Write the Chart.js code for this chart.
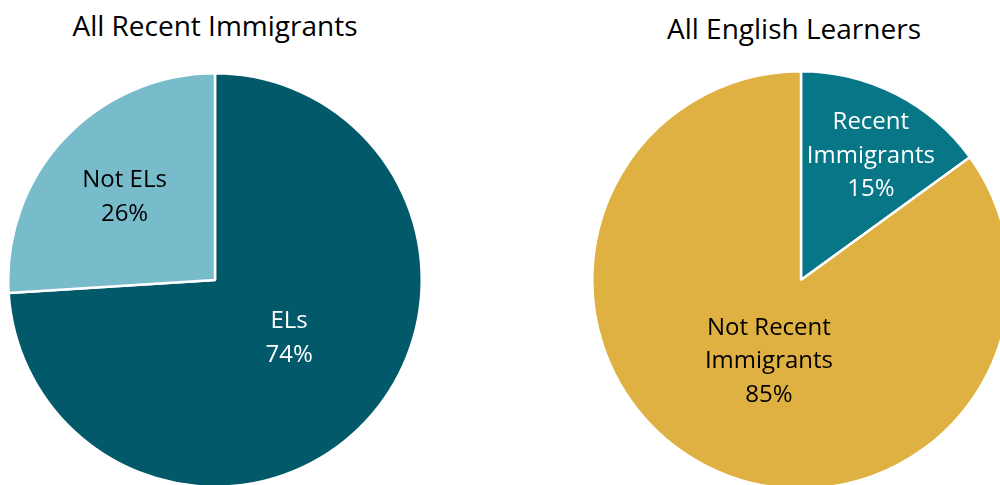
<!DOCTYPE html>
<html>
<head>
<meta charset="utf-8">
<script src="https://cdn.jsdelivr.net/npm/chart.js@4"></script>
<style>
  html, body { margin: 0; padding: 0; background: #fff; overflow: hidden; width: 1000px; height: 485px; }
  .title { position: absolute; font-family: "Open Sans", sans-serif; font-size: 28px; color: #000; white-space: nowrap; transform: translateX(-50%); }
  canvas { position: absolute; }
</style>
</head>
<body>
<div class="title" style="left:215px; top:6px;">All Recent Immigrants</div>
<div class="title" style="left:794px; top:9px;">All English Learners</div>
<div style="position:absolute; left:7px; top:72px; width:416px; height:416px;"><canvas id="immChart"></canvas></div>
<div style="position:absolute; left:591px; top:70px; width:420px; height:420px;"><canvas id="elChart"></canvas></div>
<script>
// left pie: all recent immigrants
const immLabels = [['ELs'], ['Not ELs']];
const immValues = [74, 26];
const immColors = ['#02596A', '#78BBCA'];
const immText = ['#ffffff', '#000000'];

// right pie: all English learners
const elLabels = [['Recent', 'Immigrants'], ['Not Recent', 'Immigrants']];
const elValues = [15, 85];
const elColors = ['#077686', '#DFB142'];
const elText = ['#ffffff', '#000000'];

// label placement per slice: [fraction of radius, angle tweak in degrees]
const immPlace = [[0.45, -6], [0.60, 0]];
const elPlace = [[0.69, 2], [0.41, -5]];

const sliceLabels = {
    id: 'sliceLabels',
    afterDatasetsDraw(chart, args, opts) {
        const ctx = chart.ctx;
        const meta = chart.getDatasetMeta(0);
        const values = chart.data.datasets[0].data;
        const total = values.reduce((a, b) => a + b, 0);
        ctx.save();
        ctx.font = '24px "Open Sans", sans-serif';
        ctx.textAlign = 'center';
        ctx.textBaseline = 'middle';
        meta.data.forEach((arc, i) => {
            const p = arc.getProps(['x', 'y', 'startAngle', 'endAngle', 'outerRadius'], true);
            const place = opts.place[i];
            const mid = (p.startAngle + p.endAngle) / 2 + place[1] * Math.PI / 180;
            const r = p.outerRadius * place[0];
            const cx = p.x + Math.cos(mid) * r;
            const cy = p.y + Math.sin(mid) * r + 2;
            const lines = chart.data.labels[i].concat([Math.round(values[i] / total * 100) + '%']);
            const lh = 33.5;
            const top = cy - (lines.length - 1) * lh / 2;
            ctx.fillStyle = opts.colors[i];
            lines.forEach((t, j) => ctx.fillText(t, cx, top + j * lh));
        });
        ctx.restore();
    },
};

const makePie = (id, labels, values, colors, textColors, place) => {
    const ctx = document.getElementById(id).getContext('2d');
    return new Chart(ctx, {
        type: 'pie',
        data: {
            labels: labels,
            datasets: [
                {
                    data: values,
                    backgroundColor: colors,
                    borderColor: '#ffffff',
                    borderWidth: 2.5,
                },
            ],
        },
        options: {
            responsive: true,
            maintainAspectRatio: false,
            animation: false,
            layout: { padding: 0 },
            plugins: {
                legend: { display: false },
                tooltip: { enabled: false },
                sliceLabels: { colors: textColors, place: place },
            },
        },
        plugins: [sliceLabels],
    });
};

makePie('immChart', immLabels, immValues, immColors, immText, immPlace);
makePie('elChart', elLabels, elValues, elColors, elText, elPlace);
</script>
</body>
</html>
